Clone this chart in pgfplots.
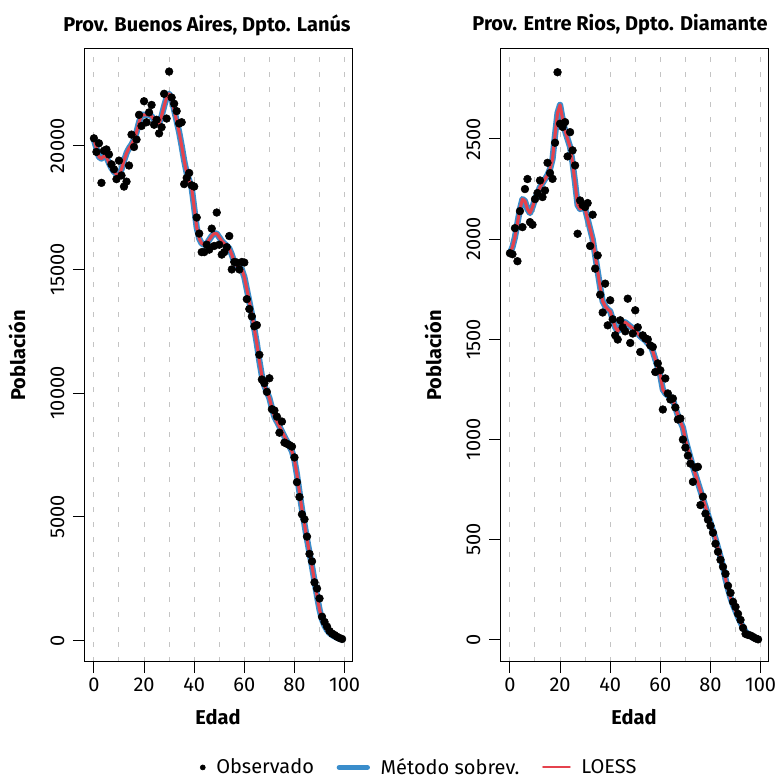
\documentclass[border=0pt]{standalone}
\usepackage{pgfplots}
\usepackage{pgfplotstable}
\pgfplotsset{compat=1.18}
\usepackage{fontspec}
\setmainfont{Fira Sans}
\definecolor{sobrev}{HTML}{3A8DCB}
\definecolor{loess}{HTML}{E5424D}
\definecolor{gridgray}{HTML}{C4C4C4}

\pgfplotstableread{
age obs fit
0 20300 20250
1 19750 19900
2 20100 19550
3 18500 19480
4 19800 19580
5 19850 19550
6 19650 19300
7 19250 19100
8 19050 18950
9 18650 18850
10 19400 18800
11 18800 19050
12 18350 19400
13 18550 19700
14 19200 19900
15 20450 20050
16 19950 20250
17 20250 20550
18 21250 20950
19 20800 21250
20 21800 21250
21 20950 21250
22 21350 21250
23 21650 21200
24 20850 21050
25 21050 20900
26 20500 20900
27 20750 21200
28 22100 21600
29 21100 21950
30 23000 22100
31 21950 21900
32 21700 21450
33 21400 21000
34 20900 20550
35 20950 20000
36 18450 19400
37 18700 18900
38 18900 18600
39 18400 18300
40 18350 17500
41 17100 16700
42 16450 16250
43 15700 16050
44 15700 16000
45 16000 16050
46 15800 16200
47 16650 16350
48 15950 16450
49 17300 16450
50 16000 16300
51 15600 16150
52 15700 16050
53 15900 15950
54 16350 15850
55 15000 15600
56 15300 15300
57 15280 15150
58 15000 15080
59 15300 15000
60 15280 14700
61 13800 14200
62 13400 13700
63 13100 13200
64 12700 12600
65 12750 12000
66 11550 11300
67 10550 10700
68 10400 10300
69 10050 10050
70 10600 9800
71 9350 9400
72 9300 9050
73 9050 8850
74 8400 8650
75 8850 8450
76 8000 8250
77 7950 8050
78 7900 7850
79 7840 7650
80 7400 7300
81 6400 6700
82 5800 6000
83 5100 5300
84 4900 4700
85 4200 4100
86 3500 3550
87 3200 3000
88 2350 2400
89 2100 1800
90 1700 1250
91 960 850
92 750 600
93 560 420
94 380 300
95 280 220
96 220 160
97 150 110
98 100 70
99 60 40
}\lanus

\pgfplotstableread{
age obs fit
0 1930 1930
1 1925 1960
2 2055 2010
3 1890 2080
4 2140 2150
5 2060 2200
6 2250 2190
7 2300 2150
8 2085 2130
9 2072 2160
10 2200 2200
11 2230 2230
12 2293 2260
13 2210 2280
14 2243 2300
15 2381 2320
16 2330 2350
17 2301 2400
18 2481 2520
19 2833 2630
20 2576 2670
21 2560 2600
22 2584 2540
23 2413 2500
24 2534 2460
25 2443 2380
26 2368 2280
27 2027 2170
28 2193 2150
29 2170 2160
30 2160 2150
31 2180 2100
32 1966 2050
33 2122 2000
34 1853 1920
35 1919 1840
36 1723 1760
37 1634 1690
38 1778 1665
39 1570 1650
40 1695 1640
41 1600 1600
42 1520 1560
43 1499 1540
44 1595 1560
45 1560 1585
46 1540 1585
47 1703 1575
48 1482 1565
49 1529 1555
50 1645 1545
51 1560 1530
52 1437 1515
53 1520 1505
54 1505 1495
55 1500 1480
56 1470 1470
57 1462 1440
58 1337 1400
59 1380 1360
60 1346 1320
61 1150 1250
62 1305 1230
63 1230 1220
64 1200 1212
65 1205 1200
66 1160 1160
67 1100 1120
68 1105 1090
69 1000 1060
70 960 1000
71 920 955
72 880 910
73 789 865
74 860 825
75 864 785
76 673 745
77 715 705
78 630 665
79 600 625
80 570 585
81 535 545
82 480 505
83 440 460
84 400 415
85 365 365
86 330 305
87 270 255
88 235 210
89 190 175
90 165 145
91 130 115
92 100 88
93 60 62
94 30 42
95 25 30
96 22 20
97 15 12
98 8 6
99 3 3
}\diamante

\pgfplotsset{
  panel/.style={
    scale only axis,
    width=201pt, height=459.75pt,
    xmin=-3.96, xmax=102.96,
    xtick={0,20,...,100},
    minor xtick={10,30,50,70,90},
    xmajorgrids, xminorgrids,
    major grid style={gridgray, line width=0.75pt, dash pattern=on 3.75pt off 7.5pt},
    minor grid style={gridgray, line width=0.75pt, dash pattern=on 3.75pt off 7.5pt},
    tick align=outside,
    tick pos=left,
    major tick length=8.25pt,
    minor tick length=0pt,
    every tick/.style={black, line width=0.75pt},
    axis line style={black, line width=0.75pt},
    ticklabel style={font=\fontsize{15}{18}\selectfont, black},
    yticklabel style={xshift=-3pt, rotate=90, anchor=south},
    /pgf/number format/assume math mode=true,
    /pgf/number format/1000 sep={},
    scaled y ticks=false,
    xlabel={Edad}, ylabel={Población},
    label style={font=\fontsize{15}{18}\selectfont\bfseries},
    xlabel style={at={(axis description cs:0.5,-0.0897)}, anchor=center},
    ylabel style={at={(axis description cs:-0.25,0.5)}, anchor=center},
  },
  obsplot/.style={only marks, mark=*, mark size=2.9pt, black, mark options={fill=black, draw=black},
    legend image code/.code={\fill[black] (0.1cm,0) circle (1.9pt);}},
  sobplot/.style={sobrev, line width=4.7pt, line join=round, line cap=round, no marks,
    legend image code/.code={\draw[sobrev, line width=4pt, line cap=round] (0,0) -- (21pt,0);}},
  loeplot/.style={loess, line width=2.3pt, line join=round, line cap=round, no marks,
    legend image code/.code={\draw[loess, line width=1.6pt] (0,0) -- (20pt,0);}},
}

\begin{document}
\begin{tikzpicture}
\path[use as bounding box] (0,0) rectangle (585.75pt,585pt);

\begin{axis}[panel, at={(63pt,88.5pt)}, anchor=south west,
  ymin=-870, ymax=23912,
  ytick={0,5000,10000,15000,20000},
  legend columns=3,
  legend style={at={(axis description cs:1.252,-0.172)}, anchor=center, draw=none, fill=none,
    font=\fontsize{15}{18}\selectfont,
    /tikz/every odd column/.append style={column sep=6pt},
    /tikz/every even column/.append style={column sep=15pt}},
]
\addplot[obsplot] table[x=age,y=obs]{\lanus};
\addlegendentry{Observado}
\addplot[sobplot] table[x=age,y=fit]{\lanus};
\addlegendentry{Método sobrev.}
\addplot[loeplot] table[x=age,y=fit]{\lanus};
\addlegendentry{LOESS}
\end{axis}

\begin{axis}[panel, at={(375pt,88.5pt)}, anchor=south west,
  ymin=-110, ymax=2949,
  ytick={0,500,1000,1500,2000,2500},
]
\addplot[obsplot] table[x=age,y=obs]{\diamante};
\addplot[sobplot] table[x=age,y=fit]{\diamante};
\addplot[loeplot] table[x=age,y=fit]{\diamante};
\end{axis}

\node[font=\fontsize{15}{18}\selectfont\bfseries] at (155.25pt,566.25pt) {Prov. Buenos Aires, Dpto. Lanús};
\node[font=\fontsize{15}{18}\selectfont\bfseries] at (465pt,566.25pt) {Prov. Entre Rios, Dpto. Diamante};
\end{tikzpicture}
\end{document}
